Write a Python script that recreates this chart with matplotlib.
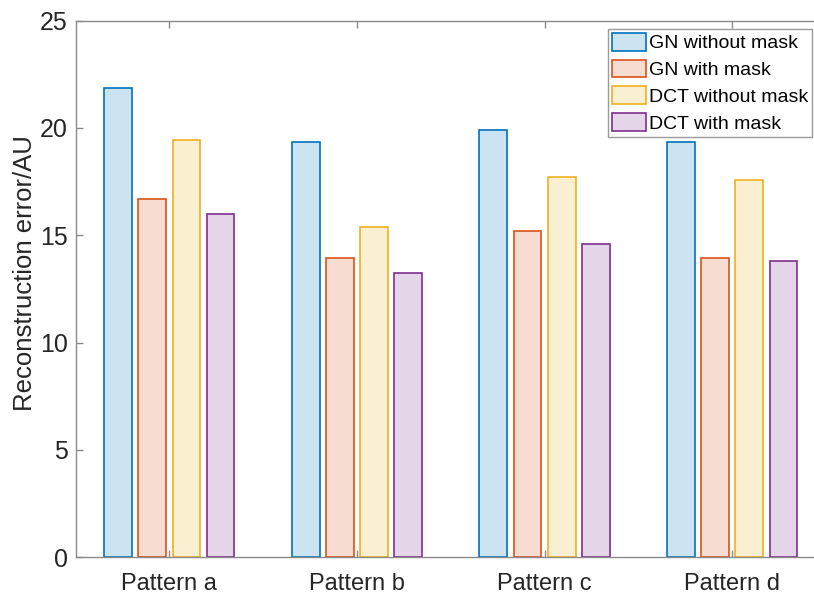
import matplotlib
matplotlib.use("Agg")
import matplotlib.pyplot as plt
import numpy as np

patterns = ["Pattern a", "Pattern b", "Pattern c", "Pattern d"]
series_names = ["GN without mask", "GN with mask", "DCT without mask", "DCT with mask"]
gn_without = [21.85, 19.35, 19.88, 19.32]
gn_with = [16.68, 13.93, 15.20, 13.92]
dct_without = [19.43, 15.38, 17.70, 17.57]
dct_with = [15.98, 13.25, 14.59, 13.78]
series = [gn_without, gn_with, dct_without, dct_with]

edge_colors = ["#0072BD", "#D95319", "#EDB120", "#7E2F8E"]

plt.rcParams['font.family'] = ['Liberation Sans', 'DejaVu Sans']

W, H = 814, 592
fig = plt.figure(figsize=(W / 100, H / 100), dpi=100)
ax_left, ax_right, ax_top, ax_bottom = 75.5, 826.0, 20.5, 557.3
ax = fig.add_axes([ax_left / W, (H - ax_bottom) / H, (ax_right - ax_left) / W, (ax_bottom - ax_top) / H])

x = np.arange(1, len(patterns) + 1)
pitch = 0.182
bw = 0.148
for i, (vals, ec) in enumerate(zip(series, edge_colors)):
    off = (i - 1.5) * pitch
    r, g, b = matplotlib.colors.to_rgb(ec)
    fc = (1 - 0.2 * (1 - r), 1 - 0.2 * (1 - g), 1 - 0.2 * (1 - b))
    ax.bar(x + off, vals, width=bw, facecolor=fc, edgecolor=ec, linewidth=1.2,
           label=series_names[i], zorder=2)

ax.set_xlim(0.5, 4.5)
ax.set_ylim(0, 25)
ax.set_xticks(x)
ax.set_xticklabels(patterns)
ax.set_yticks([0, 5, 10, 15, 20, 25])

spine_col = "#8a8a8a"
for s in ax.spines.values():
    s.set_color(spine_col)
    s.set_linewidth(1.0)
ax.tick_params(direction='in', length=5, width=1.0, color=spine_col,
               labelcolor="#262626", top=True, right=True)
ax.tick_params(axis='x', pad=11.5, labelsize=17)
ax.tick_params(axis='y', pad=5.5, labelsize=18)
ax.set_ylabel("Reconstruction error/AU", fontsize=18.5, color="#262626")
ax.yaxis.set_label_coords((37 - ax_left) / (ax_right - ax_left), (ax_bottom - 273) / (ax_bottom - ax_top))

leg = ax.legend(loc='upper right', bbox_to_anchor=(812 / W, 1 - 29 / H), bbox_transform=fig.transFigure,
                borderaxespad=0, fontsize=14, frameon=True, fancybox=False,
                handlelength=1.75, handleheight=1.03, handletextpad=0.15,
                labelspacing=0.37, borderpad=0.2)
fr = leg.get_frame()
fr.set_edgecolor("#9a9a9a")
fr.set_linewidth(1.0)
fr.set_alpha(1)
for t in leg.get_texts():
    t.set_color("#000000")

fig.savefig("out.png", dpi=100)
